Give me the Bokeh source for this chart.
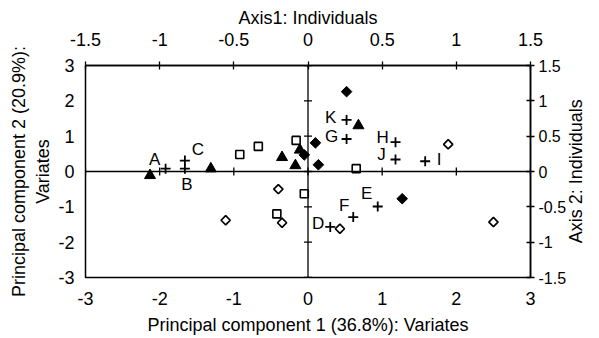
import numpy as np
from bokeh.plotting import figure
from bokeh.models import (Range1d, LinearAxis, FixedTicker, CustomJSTickFormatter,
                          Span, ColumnDataSource)
from bokeh.core.properties import value
from bokeh.embed import file_html
from bokeh.resources import INLINE

# ---- data: variates on principal components 1 and 2 ----
tri_x = [-2.13, -1.31, -0.35, -0.11, -0.17, 0.68]
tri_y = [-0.11, 0.08, 0.40, 0.61, 0.17, 1.30]
sq_x = [-0.92, -0.67, -0.16, -0.05, -0.42, 0.65]
sq_y = [0.48, 0.71, 0.88, -0.63, -1.20, 0.08]
fd_x = [-0.05, 0.10, 0.14, 0.52, 1.27]
fd_y = [0.47, 0.81, 0.19, 2.26, -0.77]
od_x = [-0.40, -0.35, -1.11, 0.43, 1.89, 2.50]
od_y = [-0.50, -1.45, -1.38, -1.62, 0.77, -1.43]

# ---- data: individuals on Axis 1 / Axis 2 ----
ind_names = ["A", "B", "C", "D", "E", "F", "G", "H", "I", "J", "K"]
ind_x = [-0.96, -0.83, -0.83, 0.15, 0.47, 0.305, 0.26, 0.59, 0.79, 0.59, 0.26]
ind_y = [0.04, 0.04, 0.155, -0.785, -0.495, -0.645, 0.46, 0.415, 0.145, 0.17, 0.73]

# ---- ticks ----
pc_ticks = [-3, -2, -1, 0, 1, 2, 3]
ind_ticks = [-1.5, -1, -0.5, 0, 0.5, 1, 1.5]
right_title = "Axis 2: Individuals"

# label placement (screen px offsets from each individual's marker)
lab_dx = {"A": -11, "B": 2, "C": 13, "D": -12, "E": -11, "F": -9,
          "G": -15, "H": -13, "I": 14, "J": -14, "K": -16}
lab_dy = {"A": -9, "B": 16, "C": -11, "D": -3, "E": -13, "F": -12,
          "G": -2, "H": -5, "I": -2, "J": -5, "K": -2}

FONT = "Liberation Sans"
FS = "18px"

p = figure(width=599, height=338, x_range=Range1d(-3, 3), y_range=Range1d(-3, 3),
           output_backend="svg", toolbar_location=None,
           min_border_left=85, min_border_right=69, min_border_top=65, min_border_bottom=61)
p.extra_x_ranges = {"ix": Range1d(-1.5, 1.5)}
p.extra_y_ranges = {"iy": Range1d(-1.5, 1.5)}
p.xgrid.visible = False
p.ygrid.visible = False
p.background_fill_color = "white"
p.border_fill_color = "white"
p.outline_line_color = "black"
p.outline_line_width = 1.5
p.outline_line_alpha = 1.0

fmt = CustomJSTickFormatter(code="return tick.toString();")


def style_axis(ax, label, tick_in, tick_out, standoff, label_standoff):
    ax.axis_label = label
    ax.axis_label_text_font = FONT
    ax.axis_label_text_font_size = FS
    ax.axis_label_text_font_style = "normal"
    ax.axis_label_text_color = "black"
    ax.axis_label_standoff = label_standoff
    ax.major_label_text_font = FONT
    ax.major_label_text_font_size = FS
    ax.major_label_text_color = "black"
    ax.major_label_standoff = standoff
    ax.major_tick_in = tick_in
    ax.major_tick_out = tick_out
    ax.major_tick_line_color = "black" if (tick_in or tick_out) else None
    ax.major_tick_line_width = 1.3
    ax.minor_tick_line_color = None
    ax.formatter = fmt


bx = p.xaxis[0]
bx.ticker = FixedTicker(ticks=pc_ticks)
style_axis(bx, "Principal component 1 (36.8%): Variates", 0, 0, 14, 7)
bx.axis_line_color = None

ly = p.yaxis[0]
ly.ticker = FixedTicker(ticks=pc_ticks)
style_axis(ly, "Principal component 2 (20.9%):\nVariates", 0, 0, 11, 2)
ly.axis_line_color = None

tx = LinearAxis(x_range_name="ix", ticker=FixedTicker(ticks=ind_ticks))
style_axis(tx, "Axis1: Individuals", 4, 4, 16, 2)
tx.axis_line_color = "black"
tx.axis_line_width = 1.5
p.add_layout(tx, "above")

# right axis: slightly smaller numbers and a tighter standoff, so that the
# rotated title beside them has room without narrowing the plot frame
ry = LinearAxis(y_range_name="iy", ticker=FixedTicker(ticks=ind_ticks))
style_axis(ry, None, 4, 4, 4, 0)
ry.major_label_text_font_size = "16px"
ry.axis_line_color = "black"
ry.axis_line_width = 1.5
p.add_layout(ry, "right")

# right-hand title, reading bottom to top: an extra axis carrying one label.
# The rotated label starts at its tick, so the tick sits half a label-length
# below the middle of the range to centre the text vertically.
ry2 = LinearAxis(y_range_name="iy", ticker=FixedTicker(ticks=[-1.015]))
style_axis(ry2, None, 0, 0, 7, 0)
ry2.formatter = CustomJSTickFormatter(args=dict(t=right_title), code="return t;")
ry2.major_label_orientation = np.pi / 2
ry2.axis_line_color = None
p.add_layout(ry2, "right")

# zero lines with tick marks
p.add_layout(Span(location=0, dimension="width", line_color="black", line_width=1.3))
p.add_layout(Span(location=0, dimension="height", line_color="black", line_width=1.3))
p.scatter(x=pc_ticks, y=[0] * len(pc_ticks), marker="dash", angle=np.pi / 2, size=8,
          line_color="black", line_width=1.3)
p.scatter(x=[0] * len(pc_ticks), y=pc_ticks, marker="dash", size=8,
          line_color="black", line_width=1.3)

# variates
p.scatter(x=tri_x, y=tri_y, marker="triangle", size=11, fill_color="black",
          line_color="black", line_width=1)
p.scatter(x=sq_x, y=sq_y, marker="square", size=8, fill_color="white",
          line_color="black", line_width=1.6)
p.scatter(x=fd_x, y=fd_y, marker="square", angle=np.pi / 4, size=7.5, fill_color="black",
          line_color="black", line_width=1)
p.scatter(x=od_x, y=od_y, marker="square", angle=np.pi / 4, size=6.5, fill_color="white",
          line_color="black", line_width=1.7)

# individuals
src = ColumnDataSource(dict(x=ind_x, y=ind_y, name=ind_names,
                            dx=[lab_dx[n] for n in ind_names],
                            dy=[lab_dy[n] for n in ind_names]))
p.scatter(x="x", y="y", source=src, marker="cross", size=10, line_color="black",
          line_width=1.8, x_range_name="ix", y_range_name="iy")
p.text(x="x", y="y", text="name", source=src, x_offset="dx", y_offset="dy",
       x_range_name="ix", y_range_name="iy", text_font=value(FONT), text_font_size="17px",
       text_align="center", text_baseline="middle", text_color="black")

open("out.html", "w").write(file_html(p, INLINE))
